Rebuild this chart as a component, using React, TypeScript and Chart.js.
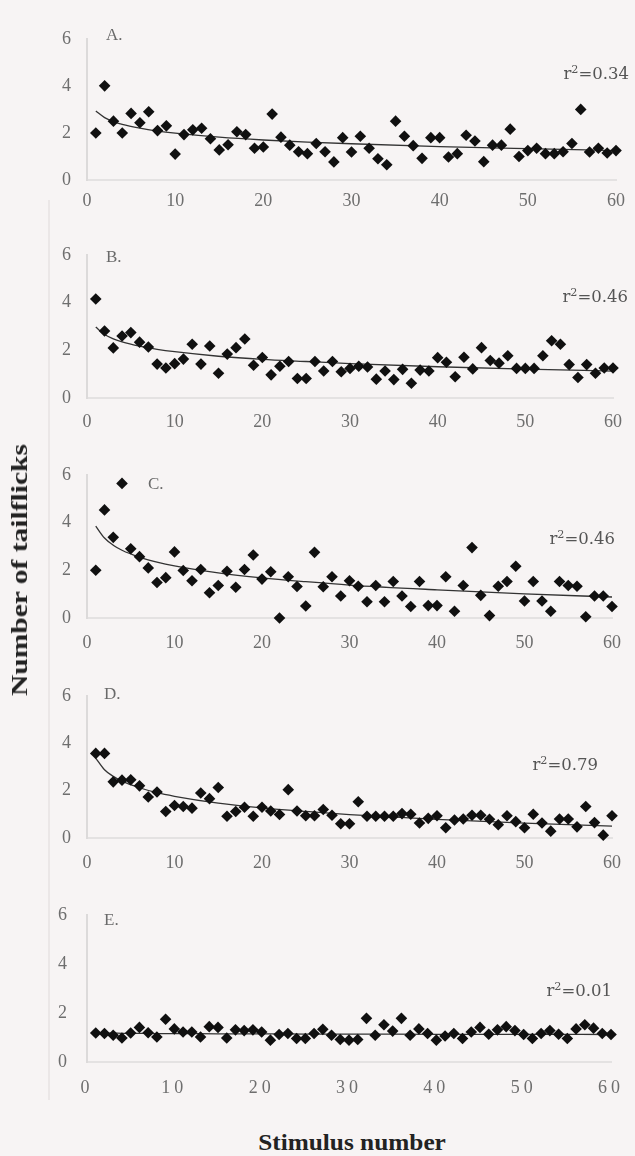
import React, { useEffect, useRef } from 'react';
import { Chart, registerables } from 'chart.js';

Chart.register(...registerables);

// ---- data ----
const stimulus: number[] = Array.from({ length: 60 }, (_, i) => i + 1);
const xTicks = [0, 10, 20, 30, 40, 50, 60];
const yTicks = [0, 2, 4, 6];

const tailflicksA = [
  2.0, 4.0, 2.5, 2.0, 2.83, 2.43, 2.9, 2.1, 2.3, 1.1,
  1.93, 2.13, 2.2, 1.75, 1.28, 1.5, 2.05, 1.93, 1.35, 1.4,
  2.8, 1.82, 1.48, 1.2, 1.12, 1.55, 1.2, 0.77, 1.8, 1.19,
  1.86, 1.35, 0.9, 0.65, 2.5, 1.86, 1.46, 0.92, 1.8, 1.8,
  0.98, 1.12, 1.9, 1.66, 0.78, 1.48, 1.48, 2.16, 1.0, 1.25,
  1.35, 1.12, 1.12, 1.2, 1.55, 3.0, 1.19, 1.35, 1.15, 1.25,
];
const tailflicksB = [
  4.15, 2.81, 2.1, 2.6, 2.74, 2.34, 2.14, 1.42, 1.26, 1.44,
  1.63, 2.25, 1.42, 2.18, 1.04, 1.84, 2.11, 2.47, 1.37, 1.7,
  0.97, 1.33, 1.53, 0.82, 0.82, 1.53, 1.13, 1.53, 1.1, 1.24,
  1.33, 1.3, 0.79, 1.13, 0.77, 1.2, 0.62, 1.17, 1.13, 1.69,
  1.5, 0.89, 1.71, 1.22, 2.11, 1.57, 1.46, 1.77, 1.24, 1.24,
  1.24, 1.77, 2.4, 2.25, 1.4, 0.86, 1.4, 1.04, 1.26, 1.26,
];
const tailflicksC = [
  2.0, 4.53, 3.38, 5.64, 2.9, 2.57, 2.1, 1.49, 1.69, 2.77,
  1.99, 1.56, 2.03, 1.06, 1.36, 1.96, 1.29, 2.03, 2.64, 1.63,
  1.94, 0.0, 1.73, 1.32, 0.5, 2.75, 1.31, 1.73, 0.92, 1.56,
  1.33, 0.68, 1.36, 0.68, 1.53, 0.92, 0.48, 1.53, 0.52, 0.52,
  1.73, 0.28, 1.36, 2.95, 0.95, 0.1, 1.33, 1.53, 2.17, 0.71,
  1.53, 0.71, 0.28, 1.53, 1.36, 1.33, 0.05, 0.92, 0.92, 0.48,
];
const tailflicksD = [
  3.57, 3.57, 2.37, 2.44, 2.46, 2.2, 1.73, 1.94, 1.12, 1.37,
  1.33, 1.26, 1.9, 1.66, 2.13, 0.92, 1.12, 1.3, 0.92, 1.3,
  1.14, 0.99, 2.04, 1.14, 0.94, 0.94, 1.2, 0.96, 0.6, 0.6,
  1.53, 0.92, 0.92, 0.92, 0.92, 1.03, 1.0, 0.63, 0.83, 0.94,
  0.43, 0.76, 0.8, 0.96, 0.96, 0.79, 0.56, 0.94, 0.69, 0.43,
  1.0, 0.63, 0.29, 0.8, 0.8, 0.47, 1.33, 0.65, 0.12, 0.94,
];
const tailflicksE = [
  1.18, 1.16, 1.09, 0.98, 1.18, 1.41, 1.19, 1.02, 1.74, 1.35,
  1.22, 1.22, 1.02, 1.44, 1.41, 0.98, 1.31, 1.28, 1.31, 1.22,
  0.89, 1.12, 1.16, 0.96, 0.96, 1.16, 1.33, 1.09, 0.92, 0.89,
  0.92, 1.78, 1.09, 1.52, 1.26, 1.78, 1.09, 1.35, 1.16, 0.89,
  1.06, 1.16, 0.96, 1.22, 1.41, 1.13, 1.31, 1.44, 1.28, 1.12,
  0.96, 1.16, 1.28, 1.13, 0.96, 1.35, 1.52, 1.38, 1.16, 1.12,
];

// fitted trend curves at these stimulus numbers
const fitX = [1, 2, 3, 4, 6, 8, 10, 15, 20, 25, 30, 40, 50, 60];
const fitA = [2.93, 2.65, 2.48, 2.36, 2.2, 2.08, 1.99, 1.82, 1.7, 1.61, 1.54, 1.42, 1.33, 1.25];
const fitB = [2.97, 2.66, 2.48, 2.35, 2.17, 2.04, 1.94, 1.75, 1.62, 1.53, 1.44, 1.31, 1.21, 1.13];
const fitC = [3.85, 3.35, 3.05, 2.84, 2.55, 2.34, 2.18, 1.89, 1.68, 1.52, 1.38, 1.18, 1.01, 0.88];
const fitD = [3.37, 2.88, 2.6, 2.4, 2.12, 1.91, 1.76, 1.47, 1.27, 1.12, 0.99, 0.79, 0.63, 0.5];
const fitE = [1.19, 1.18, 1.18, 1.17, 1.17, 1.16, 1.16, 1.15, 1.15, 1.14, 1.14, 1.13, 1.13, 1.12];

const panelLetters = ['A.', 'B.', 'C.', 'D.', 'E.'];
const rSquared = ['0.34', '0.46', '0.46', '0.79', '0.01'];
const yTitle = 'Number of tailflicks';
const xTitle = 'Stimulus number';

// ---- layout (pixels) ----
const W = 635;
const H = 1156;
const PAD_TOP = 20;
const X_AXIS_H = 45;
const Y_AXIS_W = 87;
const RIGHT_PAD = 13;
const BG = '#f7f4f4';
const SERIF = '"Liberation Serif", "Times New Roman", serif';

const layouts = [
  { top6: 32, bottom0: 180, labelPad: 10, letterX: 106, letterY: 35, rRight: 629, rBase: 80 },
  { top6: 248, bottom0: 398, labelPad: 13, letterX: 106, letterY: 257, rRight: 628, rBase: 303 },
  { top6: 468, bottom0: 618, labelPad: 14, letterX: 148, letterY: 484, rRight: 615, rBase: 545 },
  { top6: 689, bottom0: 838, labelPad: 14, letterX: 104, letterY: 694, rRight: 598, rBase: 771 },
  { top6: 908, bottom0: 1062, labelPad: 15, letterX: 104, letterY: 920, rRight: 612, rBase: 997 },
];

const seriesList = [tailflicksA, tailflicksB, tailflicksC, tailflicksD, tailflicksE];
const fitList = [fitA, fitB, fitC, fitD, fitE];

const spacedTicks = {
  id: 'spacedTicks',
  beforeDraw(chart: any) {
    chart.ctx.letterSpacing = '4px';
  },
  afterDraw(chart: any) {
    chart.ctx.letterSpacing = '0px';
  },
};

function Panel(props: { values: number[]; fit: number[]; top6: number; bottom0: number; labelPad: number; spaced: boolean }) {
  const { values, fit, top6, bottom0, labelPad, spaced } = props;
  const ref = useRef<HTMLCanvasElement>(null);
  const canvasTop = top6 - PAD_TOP;
  const height = bottom0 - top6 + PAD_TOP + X_AXIS_H;

  useEffect(() => {
    const tickFont = { family: SERIF, size: 18 };
    const chart = new Chart(ref.current as HTMLCanvasElement, {
      type: 'scatter',
      data: {
        datasets: [
          {
            data: stimulus.map((x, i) => ({ x, y: values[i] })),
            pointStyle: 'rectRot',
            pointRadius: 5.8,
            backgroundColor: '#101010',
            borderColor: '#101010',
            borderWidth: 0,
            showLine: false,
            clip: false,
          } as any,
          {
            data: fitX.map((x, i) => ({ x, y: fit[i] })),
            showLine: true,
            pointRadius: 0,
            borderColor: '#333333',
            borderWidth: 1.3,
            cubicInterpolationMode: 'monotone',
            fill: false,
            clip: false,
          } as any,
        ],
      },
      options: {
        animation: false,
        responsive: false,
        devicePixelRatio: 1,
        events: [],
        layout: { padding: { top: PAD_TOP, right: RIGHT_PAD, left: 0, bottom: 0 } },
        plugins: { legend: { display: false }, tooltip: { enabled: false } },
        scales: {
          x: {
            type: 'linear',
            min: 0,
            max: 60,
            afterBuildTicks: (s: any) => {
              s.ticks = xTicks.map((v) => ({ value: v }));
            },
            ticks: { padding: labelPad, color: '#6e6e6e', font: tickFont, maxRotation: 0 },
            grid: { display: false, drawTicks: false },
            border: { display: true, color: '#e4e2e2', width: 2 },
            afterFit: (s: any) => {
              s.height = X_AXIS_H;
            },
          },
          y: {
            type: 'linear',
            min: 0,
            max: 6,
            afterBuildTicks: (s: any) => {
              s.ticks = yTicks.map((v) => ({ value: v }));
            },
            ticks: { padding: 16, color: '#6e6e6e', font: tickFont },
            grid: { display: false, drawTicks: false },
            border: { display: true, color: '#dcdada', width: 2 },
            afterFit: (s: any) => {
              s.width = Y_AXIS_W;
            },
          },
        },
      } as any,
      plugins: spaced ? [spacedTicks as any] : [],
    });
    return () => chart.destroy();
  }, []);

  return (
    <canvas
      ref={ref}
      width={W}
      height={height}
      style={{ position: 'absolute', left: 0, top: canvasTop, width: W, height, display: 'block' }}
    />
  );
}

export default function App() {
  return (
    <div style={{ position: 'absolute', left: 0, top: 0, width: W, height: H, background: BG, overflow: 'hidden' }}>
      <div style={{ position: 'absolute', left: 48, top: 200, width: 2, height: 900, background: '#ebe7e7' }} />
      {layouts.map((l, i) => (
        <Panel
          key={i}
          values={seriesList[i]}
          fit={fitList[i]}
          top6={l.top6}
          bottom0={l.bottom0}
          labelPad={l.labelPad}
          spaced={i === 4}
        />
      ))}
      {layouts.map((l, i) => (
        <div
          key={'l' + i}
          style={{
            position: 'absolute',
            left: l.letterX,
            top: l.letterY - 9,
            fontFamily: SERIF,
            fontSize: 17,
            lineHeight: '17px',
            color: '#6a6a6a',
            whiteSpace: 'nowrap',
          }}
        >
          {panelLetters[i]}
        </div>
      ))}
      {layouts.map((l, i) => (
        <div
          key={'r' + i}
          style={{
            position: 'absolute',
            right: W - l.rRight,
            top: l.rBase - 14,
            fontFamily: '"DejaVu Serif", serif',
            fontSize: 16.5,
            lineHeight: '16.5px',
            color: '#555555',
            whiteSpace: 'nowrap',
          }}
        >
          r<sup style={{ fontSize: '0.68em', verticalAlign: '0.5em', lineHeight: 0 }}>2</sup>={rSquared[i]}
        </div>
      ))}
      <div
        style={{
          position: 'absolute',
          left: 19 - 150,
          top: 570 - 12,
          width: 300,
          textAlign: 'center',
          fontFamily: SERIF,
          fontWeight: 'bold',
          fontSize: 24,
          lineHeight: '24px',
          color: '#222222',
          whiteSpace: 'nowrap',
          transform: 'rotate(-90deg) scaleX(1.23)',
          transformOrigin: 'center center',
        }}
      >
        {yTitle}
      </div>
      <div
        style={{
          position: 'absolute',
          left: 352 - 150,
          top: 1131,
          width: 300,
          textAlign: 'center',
          fontFamily: SERIF,
          fontWeight: 'bold',
          fontSize: 23,
          lineHeight: '23px',
          color: '#222222',
          whiteSpace: 'nowrap',
          transform: 'scaleX(1.1)',
          transformOrigin: 'center center',
        }}
      >
        {xTitle}
      </div>
    </div>
  );
}
